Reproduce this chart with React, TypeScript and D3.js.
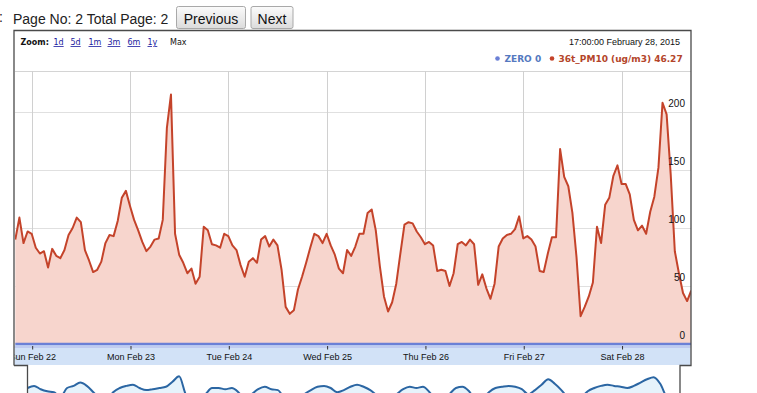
import React, { useEffect, useRef } from "react";
import * as d3 from "d3";

// hourly readings starting Feb 21 2015 20:00 (UTC used so tz does not move things)
const startTime = Date.UTC(2015, 1, 21, 20);
const endTime = Date.UTC(2015, 1, 28, 17);

const pm10 = [
    90, 109, 87, 97, 95, 83, 78, 80, 66, 82, 76, 74, 81, 94, 100, 109, 105, 81, 72, 62,
    64, 71, 87, 94, 93, 106, 126, 132, 119, 107, 98, 88, 80, 84, 90, 91, 107, 186, 215, 95,
    77, 70, 61,
    65, 52, 58, 101, 98, 86, 85, 83, 95, 93, 85, 81, 68, 58, 71, 74, 70, 90, 93, 84,
    90, 85, 64, 32, 26, 29, 47, 58, 70, 83, 95, 93, 87, 95, 85, 77, 65, 61, 81, 76, 84, 95,
    95, 113, 116, 98, 67, 41, 28, 36, 52, 78, 103, 105, 104, 97, 92, 86, 88, 85, 63, 64,
    63, 50, 61, 86, 88, 85, 90, 86, 51, 60, 48, 39, 52, 84, 91, 94, 95, 99, 110, 91, 93,
    90, 84, 63, 62, 78, 92, 92, 168, 144, 136, 113, 75, 24, 32, 41, 53, 101, 87, 120, 126,
    145, 154, 138, 138, 129, 107, 98, 102, 95, 114, 127, 152, 208, 198, 146, 80, 61, 44, 37, 46,
];
const zeroSeries = pm10.map(() => 0);

const yTicks = [0, 50, 100, 150, 200];
const zoomLinks = ["1d", "5d", "1m", "3m", "6m", "1y"];
const zoomLinkX = [53.5, 70.5, 88.5, 107.5, 127.5, 147.5];

// range selector (navigator) overview line, only its top is visible
const navValues = [
    50, 57, 46, 39, 36, 20, 50, 57, 68, 57, 36, 14, 7, 36, 50, 57, 61, 50, 43, 46,
    50, 54, 71, 89, 29, 0, 7, 29, 50, 50, 46, 50, 36, 11, 29, 46, 54, 46, 43, 14,
    0, 7, 29, 43, 54, 57, 50, 36, 43, 54, 61, 54, 43, 25, 4, 11, 29, 46, 54, 50,
    54, 36, 11, 7, 29, 50, 54, 39, 11, 14, 36, 50, 54, 57, 54, 46, 29, 43, 61, 79,
    64, 43, 18, 4, 18, 39, 50, 57, 61, 57, 54, 50, 57, 68, 79, 86, 64, 18, 0, 7,
];

const lineColor = "#c4432a";
const fillColor = "#f7d5cd";
const zeroColor = "#6b80d6";
const font = "'DejaVu Sans', Verdana, sans-serif";
const sans = "'Liberation Sans', Arial, sans-serif";

export default function App() {
    const svgRef = useRef<SVGSVGElement>(null);

    useEffect(() => {
        const svg = d3.select(svgRef.current);
        svg.selectAll("*").remove();

        const left = 15, right = 691, top = 71, bottom = 344;
        const times = pm10.map((_, i) => new Date(startTime + i * 3600 * 1000));

        // scales
        const x = d3.scaleUtc().domain([new Date(startTime), new Date(endTime)]).range([15.3, 691.2]);
        const y = d3.scaleLinear().domain([0, 200]).range([bottom, 112]);

        const defs = svg.append("defs");
        defs.append("clipPath").attr("id", "plotClip")
            .append("rect").attr("x", left).attr("y", top).attr("width", right - left).attr("height", bottom - top + 3);
        defs.append("clipPath").attr("id", "axisClip")
            .append("rect").attr("x", 14.5).attr("y", 340).attr("width", 676).attr("height", 25);
        defs.append("clipPath").attr("id", "navClip")
            .append("rect").attr("x", 27.5).attr("y", 365).attr("width", 652).attr("height", 40);
        const grad = defs.append("linearGradient").attr("id", "btn").attr("x1", 0).attr("y1", 0).attr("x2", 0).attr("y2", 1);
        grad.append("stop").attr("offset", "0%").attr("stop-color", "#fbfbfb");
        grad.append("stop").attr("offset", "100%").attr("stop-color", "#dcdcdc");

        // paging controls
        svg.append("text").attr("x", -1).attr("y", 22).attr("font-family", sans).attr("font-size", 14).attr("fill", "#222").text(":");
        svg.append("text").attr("x", 13).attr("y", 23.5).attr("font-family", sans).attr("font-size", 14).attr("fill", "#222")
            .text("Page No: 2 Total Page: 2");
        const buttons = [
            { label: "Previous", x: 176.5, w: 69 },
            { label: "Next", x: 251, w: 42 },
        ];
        buttons.forEach((b) => {
            svg.append("rect").attr("x", b.x).attr("y", 6.5).attr("width", b.w).attr("height", 22).attr("rx", 2)
                .attr("fill", "url(#btn)").attr("stroke", "#a9a9a9");
            svg.append("text").attr("x", b.x + b.w / 2).attr("y", 23.5).attr("text-anchor", "middle")
                .attr("font-family", sans).attr("font-size", 14).attr("fill", "#111").text(b.label);
        });

        // chart frame background
        svg.append("rect").attr("x", 14).attr("y", 30.5).attr("width", 677).attr("height", 334.5).attr("fill", "#fff");

        // header: zoom links, date, legend
        svg.append("text").attr("x", 20.5).attr("y", 45).attr("font-family", font).attr("font-size", 8)
            .attr("font-weight", "bold").attr("fill", "#111").text("Zoom:");
        zoomLinks.forEach((z, i) => {
            svg.append("text").attr("x", zoomLinkX[i]).attr("y", 45).attr("font-family", font).attr("font-size", 8)
                .attr("fill", "#1c1ca0").attr("text-decoration", "underline").text(z);
        });
        svg.append("text").attr("x", 170).attr("y", 45).attr("font-family", font).attr("font-size", 8)
            .attr("fill", "#111").text("Max");
        svg.append("text").attr("x", 680).attr("y", 45).attr("text-anchor", "end").attr("font-family", sans)
            .attr("font-size", 9).attr("fill", "#111").text("17:00:00 February 28, 2015");

        svg.append("circle").attr("cx", 497.5).attr("cy", 58.5).attr("r", 2.3).attr("fill", zeroColor);
        svg.append("text").attr("x", 504.5).attr("y", 62).attr("font-family", font).attr("font-size", 9)
            .attr("font-weight", "bold").attr("fill", "#5479c0").text("ZERO " + zeroSeries[zeroSeries.length - 1]);
        svg.append("circle").attr("cx", 552).attr("cy", 58.5).attr("r", 2.3).attr("fill", lineColor);
        svg.append("text").attr("x", 558.5).attr("y", 62).attr("font-family", font).attr("font-size", 9)
            .attr("font-weight", "bold").attr("fill", "#b4452a").text("36t_PM10 (ug/m3) 46.27");

        // grid
        const days = x.ticks(d3.utcDay.every(1));
        svg.append("line").attr("x1", left).attr("x2", right).attr("y1", top + 0.5).attr("y2", top + 0.5).attr("stroke", "#d4d4d4");
        svg.selectAll(".hgrid").data(yTicks.filter((t) => t > 0)).join("line").attr("class", "hgrid")
            .attr("x1", left).attr("x2", right)
            .attr("y1", (d) => Math.round(y(d)) + 0.5).attr("y2", (d) => Math.round(y(d)) + 0.5)
            .attr("stroke", "#e0e0e0");
        svg.selectAll(".vgrid").data(days).join("line").attr("class", "vgrid")
            .attr("x1", (d) => Math.round(x(d)) + 0.5).attr("x2", (d) => Math.round(x(d)) + 0.5)
            .attr("y1", top).attr("y2", bottom).attr("stroke", "#d0d0d0");

        // series
        const plot = svg.append("g").attr("clip-path", "url(#plotClip)");
        const area = d3.area<number>().x((_, i) => x(times[i])).y0(y(0)).y1((d) => y(d));
        const line = d3.line<number>().x((_, i) => x(times[i])).y((d) => y(d));
        plot.append("path").datum(pm10).attr("d", area).attr("fill", fillColor);
        plot.append("path").datum(pm10).attr("d", line).attr("fill", "none").attr("stroke", lineColor)
            .attr("stroke-width", 2).attr("stroke-linejoin", "round");

        // y labels sit inside the plot, above their grid line
        svg.selectAll(".ylab").data(yTicks).join("text").attr("class", "ylab")
            .attr("x", 685).attr("y", (d) => y(d) - 4.7).attr("text-anchor", "end")
            .attr("font-family", sans).attr("font-size", 10).attr("fill", "#111").text((d) => d);

        // x axis band
        svg.append("rect").attr("x", 14.5).attr("y", 345).attr("width", 676).attr("height", 20).attr("fill", "#d2e2f7");
        svg.append("rect").attr("x", 14.5).attr("y", 346).attr("width", 676).attr("height", 2).attr("fill", "#bfcbf0");
        svg.append("path").datum(zeroSeries).attr("clip-path", "url(#plotClip)")
            .attr("d", line).attr("fill", "none").attr("stroke", zeroColor).attr("stroke-width", 2.5);

        const xAxis = d3.axisBottom(x).ticks(d3.utcDay.every(1)).tickFormat(d3.utcFormat("%a %b %d") as any)
            .tickSize(3.5).tickPadding(4);
        const ax = svg.append("g").attr("clip-path", "url(#axisClip)")
            .append("g").attr("transform", "translate(0.5,346)").call(xAxis);
        ax.select(".domain").remove();
        ax.selectAll("line").attr("stroke", "#333");
        ax.selectAll("text").attr("font-family", sans).attr("font-size", 9).attr("fill", "#111");

        // navigator
        const nx = d3.scaleLinear().domain([0, navValues.length - 1]).range([27.5, 680]);
        const ny = d3.scaleLinear().domain([0, 100]).range([403, 373]);
        const nav = svg.append("g").attr("clip-path", "url(#navClip)");
        nav.append("path").datum(navValues)
            .attr("d", d3.area<number>().x((_, i) => nx(i)).y0(430).y1((d) => ny(d)).curve(d3.curveMonotoneX))
            .attr("fill", "#e6f3fb");
        nav.append("path").datum(navValues)
            .attr("d", d3.line<number>().x((_, i) => nx(i)).y((d) => ny(d)).curve(d3.curveMonotoneX))
            .attr("fill", "none").attr("stroke", "#2b66a3").attr("stroke-width", 2);

        // frame outline
        svg.append("path")
            .attr("d", "M14,365.5 L14,30.5 L691,30.5 L691,365.5 L680,365.5 L680,400 M14,365.5 L27.5,365.5 L27.5,400")
            .attr("fill", "none").attr("stroke", "#4a4a4a").attr("stroke-width", 1.3);
    }, []);

    return (
        <svg ref={svgRef} width={757} height={393}
            style={{ position: "absolute", left: 0, top: 0, background: "#fff" }} />
    );
}
